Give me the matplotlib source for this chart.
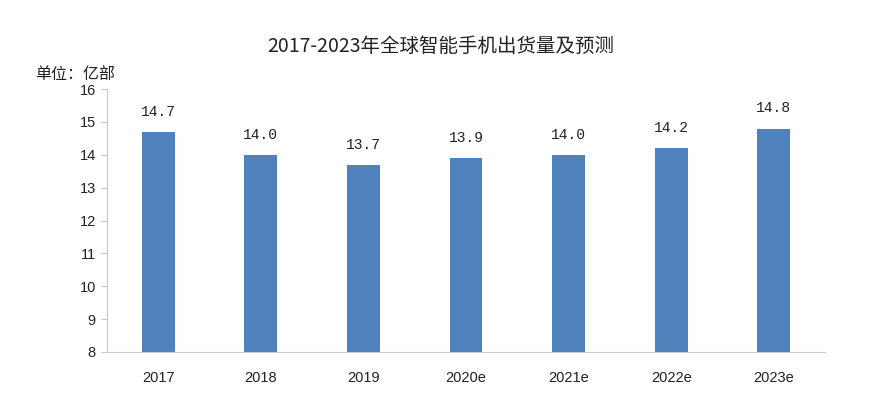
import matplotlib.pyplot as plt

plt.rcParams['font.family'] = ['Noto Sans CJK SC', 'DejaVu Sans']

years = ["2017", "2018", "2019", "2020e", "2021e", "2022e", "2023e"]
shipments = [14.7, 14.0, 13.7, 13.9, 14.0, 14.2, 14.8]
value_labels = ["14.7", "14.0", "13.7", "13.9", "14.0", "14.2", "14.8"]
y_ticks = [8, 9, 10, 11, 12, 13, 14, 15, 16]

fig = plt.figure(figsize=(8.73, 4.03), dpi=100)
ax = fig.add_axes([0.1226, 0.1266, 0.8224, 0.6524])

x = range(len(years))
bars = ax.bar(x, [v - 8 for v in shipments], bottom=8, width=0.32, color="#4f81bd")

for i, v in enumerate(shipments):
    ax.text(i, v + 0.4, value_labels[i], ha="center", va="bottom", fontsize=10.5,
            family=["Liberation Mono", "DejaVu Sans Mono"], color="#222222")

ax.set_xlim(-0.5, len(years) - 0.5)
ax.set_ylim(8, 16)
ax.set_yticks(y_ticks)
ax.set_xticks(list(x))
ax.set_xticklabels(years)

for s in ["top", "right"]:
    ax.spines[s].set_visible(False)
ax.spines["left"].set_color("#c8c8c8")
ax.spines["bottom"].set_color("#c8c8c8")

ax.tick_params(axis="x", length=0, pad=14, labelsize=10.5, labelcolor="#222222")
ax.tick_params(axis="y", length=4, color="#c8c8c8", labelsize=10.5, labelcolor="#222222", pad=4)
for lab in ax.get_xticklabels() + ax.get_yticklabels():
    lab.set_family(["Liberation Sans Narrow", "Liberation Sans", "DejaVu Sans"])

fig.text(0.505, 0.885, "2017-2023年全球智能手机出货量及预测", ha="center", va="center",
         fontsize=14, color="#222222")
fig.text(0.04, 0.815, "单位：亿部", ha="left", va="center", fontsize=11.5, color="#222222")

fig.savefig("out.png", dpi=100)
